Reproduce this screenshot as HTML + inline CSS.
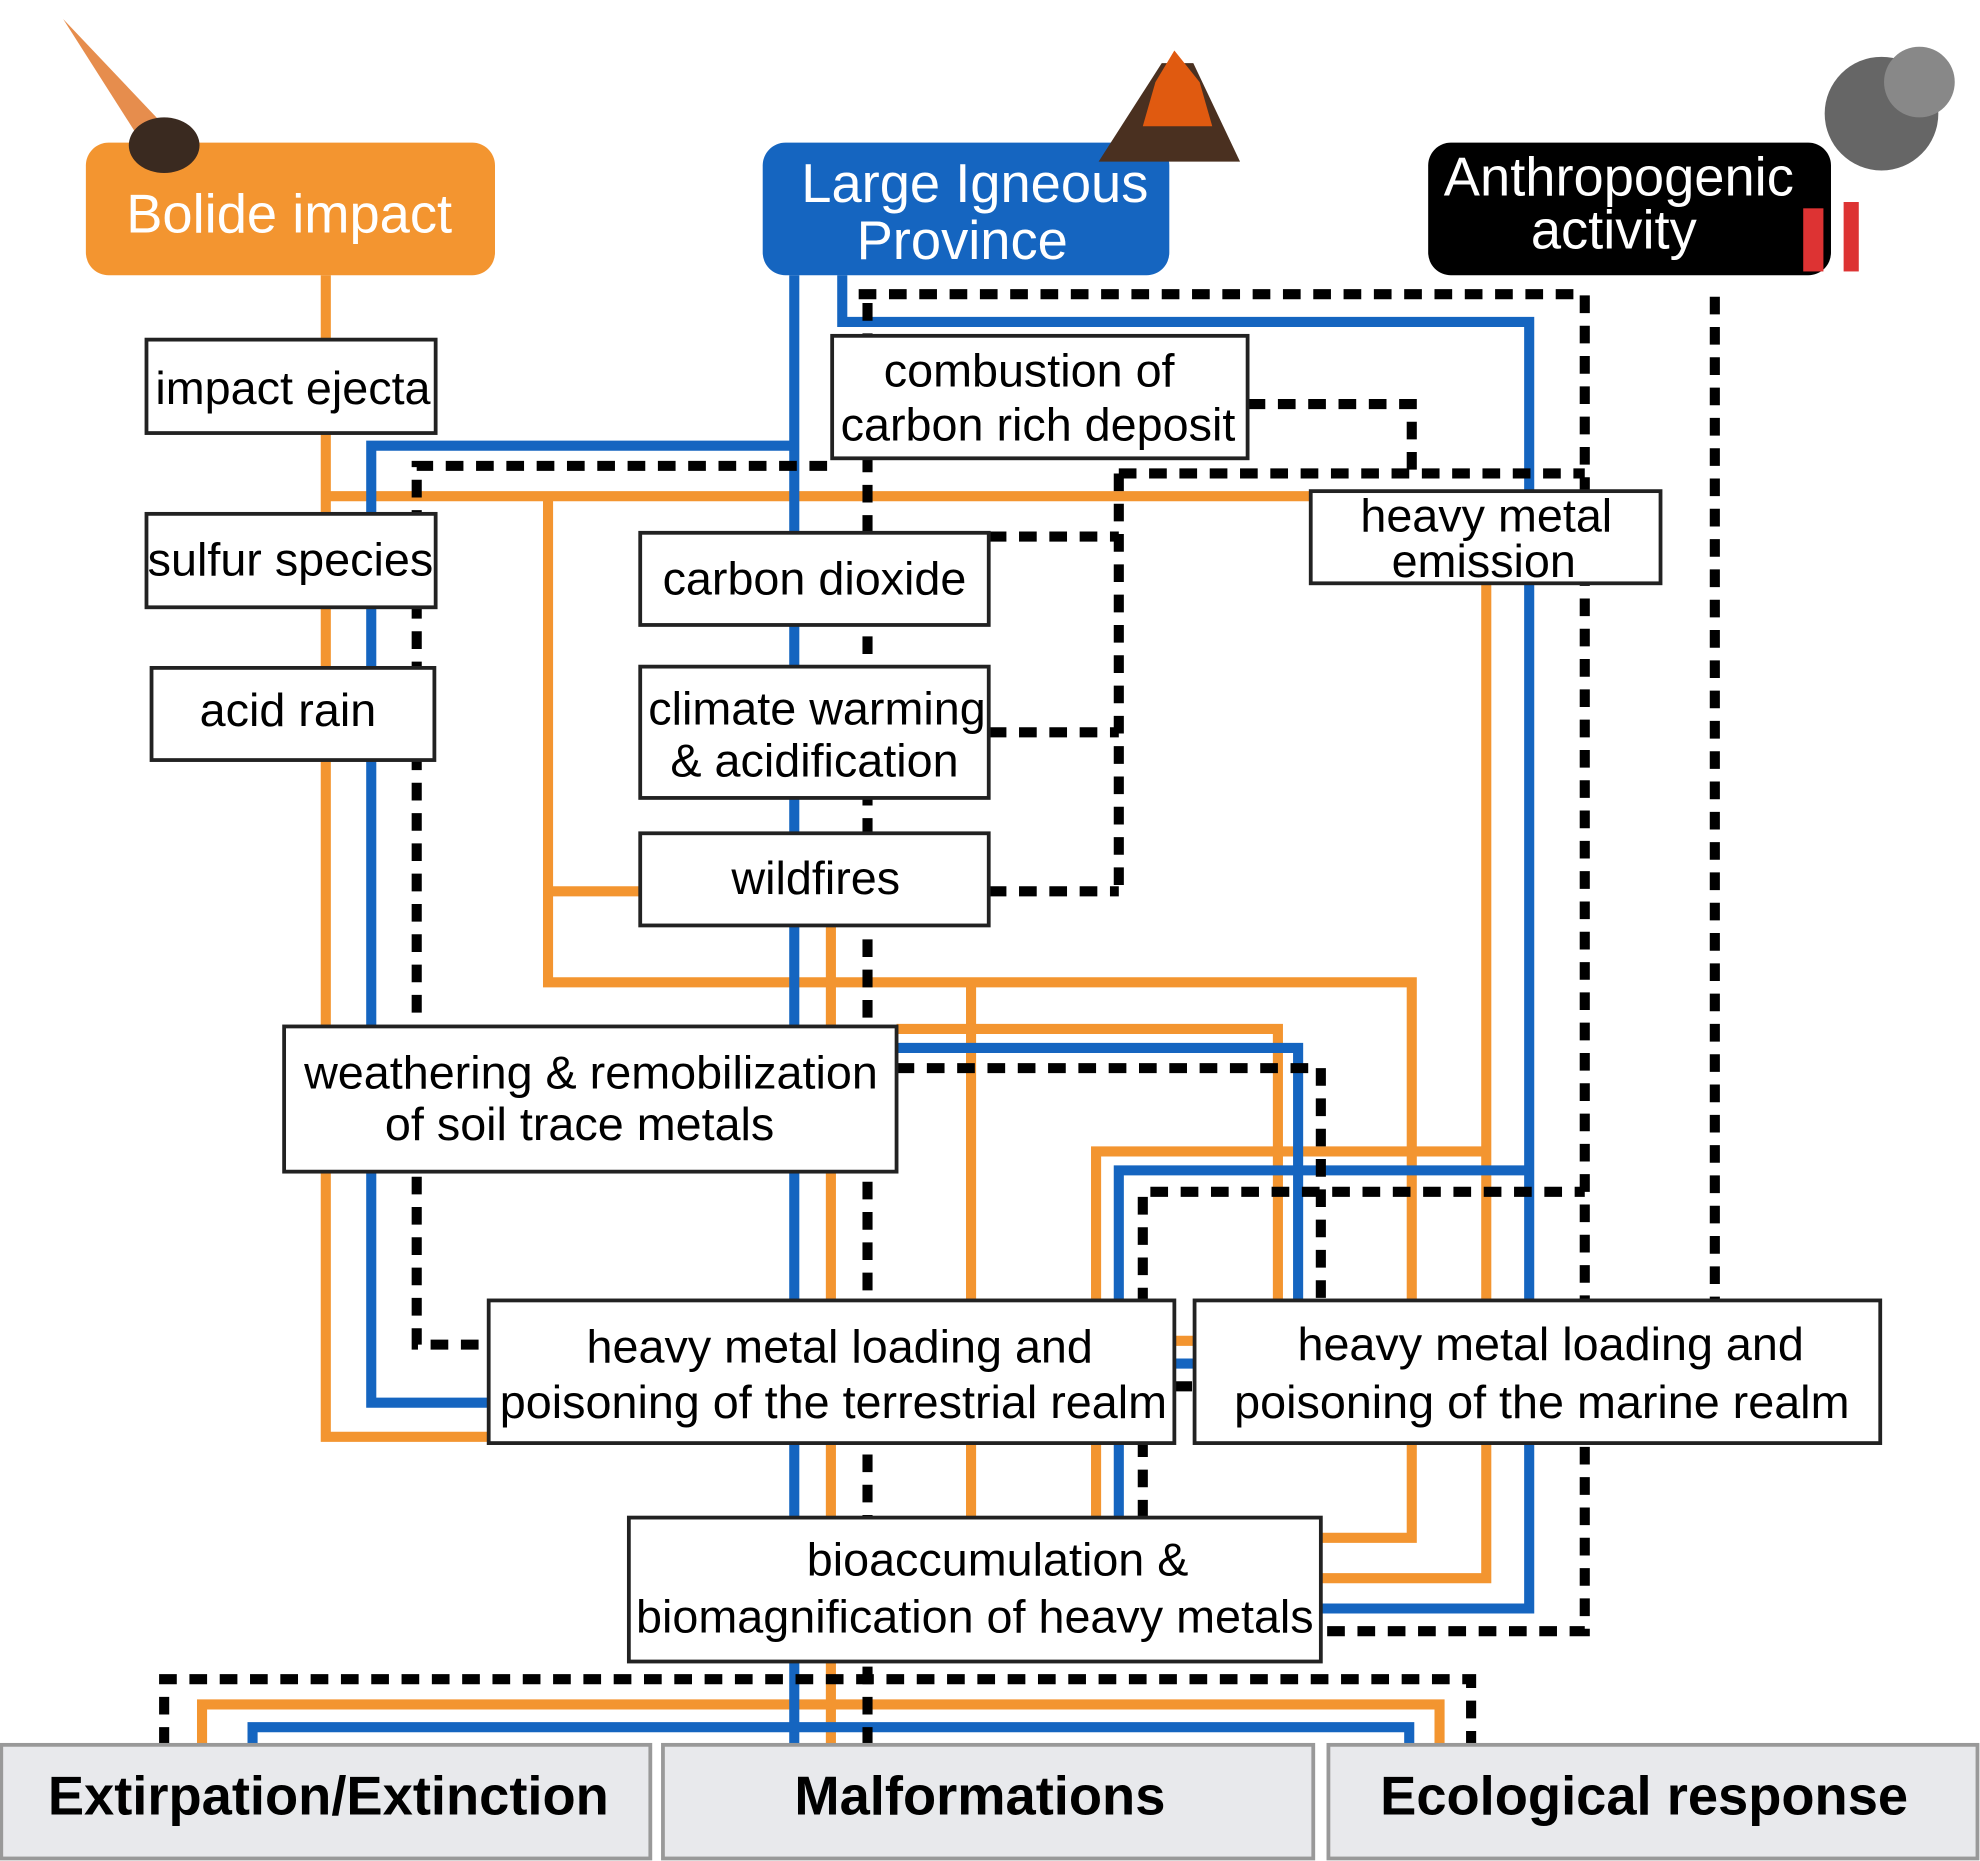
<!DOCTYPE html>
<html><head><meta charset="utf-8"><style>
html,body{margin:0;padding:0;background:#fff}
svg{display:block}
text{font-family:"Liberation Sans",Arial,sans-serif}
</style></head><body>
<svg width="1980" height="1861" viewBox="0 0 1568 1474" preserveAspectRatio="none" xmlns="http://www.w3.org/2000/svg">
<g fill="none" stroke-width="8">
<g stroke="#f39530">
<polyline points="258,218 258,1138 387,1138"/>
<line x1="258" y1="393" x2="1038" y2="393"/>
<polyline points="434,393 434,778 1118,778 1118,1218 1046,1218"/>
<line x1="434" y1="706" x2="507" y2="706"/>
<line x1="769" y1="778" x2="769" y2="1202"/>
<line x1="658" y1="733" x2="658" y2="1382"/>
<polyline points="710,815 1012,815 1012,1030"/>
<polyline points="1177,462 1177,1250 1046,1250"/>
<polyline points="868,1202 868,912 1177,912"/>
<polyline points="160,1382 160,1350 1140,1350 1140,1382"/>
<line x1="930" y1="1062" x2="946" y2="1062"/>
</g>
<g stroke="#1565c0">
<line x1="629" y1="218" x2="629" y2="1382"/>
<polyline points="667,218 667,255 1211,255 1211,1274 1046,1274"/>
<polyline points="629,353 294,353 294,1111 387,1111"/>
<polyline points="710,830 1028,830 1028,1030"/>
<polyline points="886,1202 886,927 1211,927"/>
<polyline points="200,1382 200,1368 1116,1368 1116,1382"/>
<line x1="930" y1="1080" x2="946" y2="1080"/>
</g>
<g stroke="#000" stroke-dasharray="14,10">
<line x1="687" y1="240" x2="687" y2="1382"/>
<polyline points="680,233 1255,233 1255,1292 1046,1292"/>
<line x1="1358" y1="235" x2="1358" y2="1030"/>
<polyline points="988,320 1118,320 1118,375"/>
<line x1="886" y1="375" x2="1255" y2="375"/>
<line x1="886" y1="375" x2="886" y2="710"/>
<line x1="783" y1="425" x2="886" y2="425"/>
<line x1="783" y1="580" x2="886" y2="580"/>
<line x1="783" y1="706" x2="886" y2="706"/>
<polyline points="655,369 330,369 330,1065 387,1065"/>
<polyline points="710,846 1046,846 1046,1030"/>
<polyline points="905,1202 905,944 1255,944"/>
<polyline points="130,1382 130,1330 1165,1330 1165,1382"/>
<line x1="930" y1="1098" x2="946" y2="1098"/>
</g>
</g>
<rect x="68" y="113" width="324" height="105" rx="18" fill="#f39530"/>
<text x="229" y="184" font-size="43" fill="#fff" text-anchor="middle">Bolide impact</text>
<rect x="604" y="113" width="322" height="105" rx="18" fill="#1565c0"/>
<text x="772" y="160" font-size="43" fill="#fff" text-anchor="middle">Large Igneous</text>
<text x="762" y="205" font-size="43" fill="#fff" text-anchor="middle">Province</text>
<rect x="1131" y="113" width="319" height="105" rx="18" fill="#000"/>
<text x="1282" y="155" font-size="43" fill="#fff" text-anchor="middle">Anthropogenic</text>
<text x="1278" y="197" font-size="43" fill="#fff" text-anchor="middle">activity</text>
<g>
<polygon points="50,15 140,110 120,125" fill="#e07020" opacity="0.8"/>
<ellipse cx="130" cy="115" rx="28" ry="22" fill="#3a2a20"/>
<polygon points="870,128 920,50 945,50 982,128" fill="#4a3020"/>
<polygon points="915,65 930,40 950,65 960,100 905,100" fill="#e05a10"/>
<circle cx="1490" cy="90" r="45" fill="#666"/>
<circle cx="1520" cy="65" r="28" fill="#888"/>
<rect x="1428" y="165" width="16" height="50" fill="#d33"/>
<rect x="1460" y="160" width="12" height="55" fill="#d33"/>
</g>
<g fill="#fff" stroke="#222" stroke-width="3">
<rect x="116" y="269" width="229" height="74"/>
<rect x="116" y="407" width="229" height="74"/>
<rect x="120" y="529" width="224" height="73"/>
<rect x="659" y="266" width="329" height="97"/>
<rect x="507" y="422" width="276" height="73"/>
<rect x="507" y="528" width="276" height="104"/>
<rect x="507" y="660" width="276" height="73"/>
<rect x="1038" y="389" width="277" height="73"/>
<rect x="225" y="813" width="485" height="115"/>
<rect x="387" y="1030" width="543" height="113"/>
<rect x="946" y="1030" width="543" height="113"/>
<rect x="498" y="1202" width="548" height="114"/>
</g>
<g font-size="37" fill="#000" text-anchor="middle">
<text x="232" y="320">impact ejecta</text>
<text x="230" y="456">sulfur species</text>
<text x="228" y="575">acid rain</text>
<text x="815" y="306">combustion of</text>
<text x="822" y="349">carbon rich deposit</text>
<text x="645" y="471">carbon dioxide</text>
<text x="647" y="574">climate warming</text>
<text x="645" y="615">&amp; acidification</text>
<text x="646" y="708">wildfires</text>
<text x="1177" y="421">heavy metal</text>
<text x="1175" y="457">emission</text>
<text x="468" y="862">weathering &amp; remobilization</text>
<text x="459" y="903">of soil trace metals</text>
<text x="665" y="1079">heavy metal loading and</text>
<text x="660" y="1123">poisoning of the terrestrial realm</text>
<text x="1228" y="1077">heavy metal loading and</text>
<text x="1221" y="1123">poisoning of the marine realm</text>
<text x="790" y="1248">bioaccumulation &amp;</text>
<text x="772" y="1293">biomagnification of heavy metals</text>
</g>
<g fill="#e8e9ec" stroke="#999" stroke-width="3">
<rect x="1" y="1382" width="514" height="90"/>
<rect x="525" y="1382" width="515" height="90"/>
<rect x="1052" y="1382" width="514" height="90"/>
</g>
<g font-size="43" font-weight="bold" fill="#000" text-anchor="middle">
<text x="260" y="1437">Extirpation/Extinction</text>
<text x="776" y="1437">Malformations</text>
<text x="1302" y="1437">Ecological response</text>
</g>
</svg>
</body></html>
